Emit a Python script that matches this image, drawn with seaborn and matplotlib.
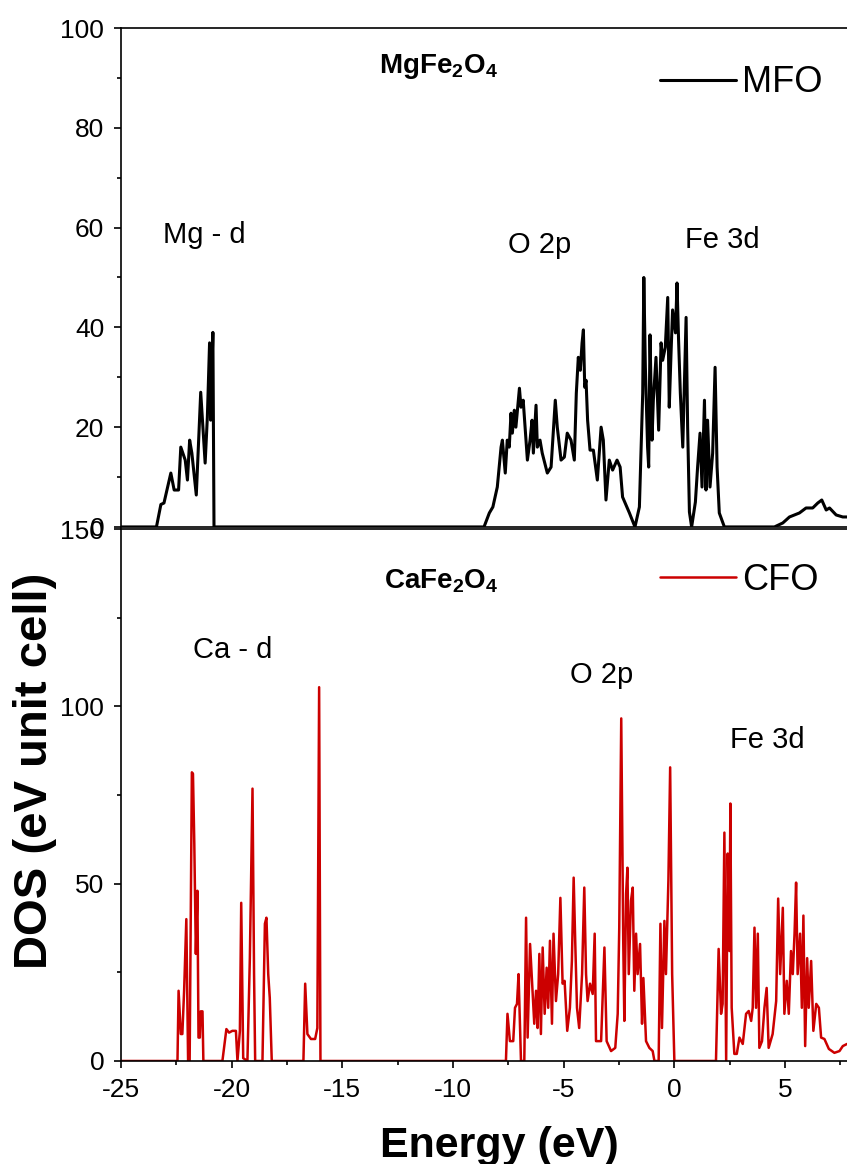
import numpy as np
import pandas as pd
import matplotlib
matplotlib.use("Agg")
import matplotlib.pyplot as plt
import seaborn as sns

# MgFe2O4 (MFO) DOS
mfo_mg_d_e = [-25.0, -23.4, -23.2, -23.06, -22.75, -22.6, -22.4, -22.3, -22.1, -22.0,
              -21.9, -21.8, -21.6, -21.4, -21.2, -21.1, -21.0, -20.95, -20.85, -20.8]
mfo_mg_d_dos = [0, 0, 4.5, 4.8, 10.8, 7.4, 7.4, 16, 13.4, 9.4,
                17.4, 14.8, 6.4, 27, 12.8, 22, 36.9, 21.4, 39, 0]

mfo_o2p_e = [-8.6, -8.36, -8.2, -8.0, -7.83, -7.77, -7.64, -7.55, -7.46, -7.38, -7.32,
             -7.23, -7.16, -7.0, -6.93, -6.83, -6.7, -6.64, -6.52, -6.43, -6.37, -6.25,
             -6.19, -6.07, -5.97, -5.74, -5.57, -5.38, -5.29, -5.12, -4.97, -4.84, -4.67,
             -4.52, -4.43, -4.34, -4.25, -4.17, -4.11, -4.05, -3.99, -3.92, -3.81, -3.66,
             -3.48, -3.31, -3.21, -3.09, -2.94, -2.79, -2.59, -2.45, -2.34, -2.03, -1.78]
mfo_o2p_dos = [0, 2.8, 4, 8, 16, 17.4, 10.8, 17.4, 16, 22.8, 18.8,
               23.4, 20, 27.8, 24, 25.4, 17.4, 13.4, 17.4, 21.4, 14.8, 24.4,
               16, 17.4, 14.8, 10.8, 12, 25.4, 20, 13.4, 14, 18.8, 17.4,
               13.4, 26.8, 34, 31.4, 36.9, 39.5, 28, 29.4, 21.4, 15.4, 15.4,
               9.4, 20, 17.4, 5.4, 13.4, 11.4, 13.4, 12, 6, 2.8, 0]

mfo_fe3d_e = [-1.58, -1.43, -1.38, -1.31, -1.21, -1.16, -1.1, -1.01, -0.95, -0.83,
              -0.71, -0.6, -0.53, -0.41, -0.3, -0.23, -0.15, -0.08, 0.05, 0.12,
              0.19, 0.27, 0.38, 0.53, 0.6, 0.68, 0.78, 0.95, 1.05, 1.16,
              1.25, 1.36, 1.43, 1.5, 1.61, 1.73, 1.84, 1.93, 2.03, 2.26]
mfo_fe3d_dos = [4, 26.8, 50, 32, 16, 12, 38.5, 17.4, 25.4, 34,
                19.4, 36.9, 33.4, 36, 46, 24, 34.9, 43.5, 38.9, 48.9,
                37.5, 26.8, 16, 42, 20, 3, 0, 5, 12, 18.8,
                8, 25.4, 7.4, 21.4, 8, 14.8, 32, 12, 2.8, 0]

mfo_cb_e = [4.52, 4.9, 5.2, 5.43, 5.65, 5.95, 6.25, 6.48, 6.66, 6.86, 7.01, 7.31, 7.61, 7.8]
mfo_cb_dos = [0, 0.8, 2, 2.4, 2.8, 3.8, 3.8, 4.8, 5.4, 3.4, 3.8, 2.4, 2, 2]

# CaFe2O4 (CFO) DOS
cfo_ca_d_e = [-25.0, -22.45, -22.4, -22.3, -22.23, -22.15, -22.05, -21.97, -21.9, -21.8,
              -21.75, -21.69, -21.62, -21.55, -21.5, -21.44, -21.4, -21.32, -21.28, -20.42,
              -20.24, -20.12, -19.97, -19.81, -19.74, -19.63, -19.57, -19.48, -19.29, -19.18,
              -19.06, -18.99, -18.94, -18.61, -18.5, -18.43, -18.35, -18.28, -18.19, -16.76,
              -16.68, -16.58, -16.42, -16.23, -16.13, -16.05, -15.99]
cfo_ca_d_dos = [0, 0, 19.8, 7.6, 7.6, 19.8, 40, 0, 0, 81.4,
                81, 61.3, 30.2, 48, 6.6, 6.6, 14, 14, 0, 0,
                9, 8, 8.5, 8.5, 0, 8.5, 44.6, 0.8, 0, 29,
                76.8, 24.5, 0, 0, 38.7, 40.4, 24.5, 17.8, 0, 0,
                21.8, 7.6, 6.2, 6.2, 9.3, 105.4, 0]

cfo_o2p_e = [-7.61, -7.54, -7.43, -7.28, -7.2, -7.11, -7.04, -6.93, -6.78, -6.7,
             -6.63, -6.52, -6.45, -6.33, -6.25, -6.18, -6.1, -6.03, -5.95, -5.86,
             -5.77, -5.7, -5.62, -5.53, -5.46, -5.35, -5.25, -5.15, -5.05, -4.96,
             -4.84, -4.72, -4.63, -4.55, -4.48, -4.4, -4.3, -4.17, -4.07, -3.99,
             -3.92, -3.81, -3.69, -3.6, -3.54, -3.31, -3.16, -3.06, -2.86, -2.67,
             -2.56, -2.49, -2.4, -2.31, -2.26, -2.18, -2.12, -2.06, -1.96, -1.88,
             -1.81, -1.73, -1.66, -1.55, -1.46, -1.4, -1.28, -1.13, -0.98, -0.9,
             -0.71, -0.63, -0.56, -0.45, -0.38, -0.27, -0.19, -0.1, 0.0]
cfo_o2p_dos = [0, 13.3, 5.6, 5.6, 15, 16.1, 24.5, 0, 0, 40.4,
               6.6, 33, 24.5, 10.5, 19.8, 9.3, 30.2, 7.6, 32, 13.3,
               26.3, 15, 33.9, 10.5, 35.9, 16.9, 24.5, 46, 21.8, 22.6,
               8.5, 15, 28.2, 51.7, 33.9, 15, 9.3, 24.5, 48.9, 24.5,
               16.9, 21.8, 18.9, 35.9, 5.6, 5.6, 32, 5.6, 2.8, 3.7,
               13.3, 37.6, 96.6, 33.9, 11.3, 47.2, 54.5, 24.5, 45.2, 48.9,
               19.8, 35.9, 24.5, 33, 10.5, 23.4, 5.6, 3.7, 2.8, 0,
               0, 38.7, 9.3, 39.5, 24.5, 50.8, 82.8, 24.5, 0]

cfo_fe3d_e = [1.88, 2.0, 2.11, 2.18, 2.26, 2.34, 2.41, 2.49, 2.53, 2.59,
              2.71, 2.82, 2.94, 3.09, 3.24, 3.36, 3.47, 3.54, 3.62, 3.69,
              3.77, 3.84, 3.96, 4.07, 4.17, 4.26, 4.44, 4.6, 4.69, 4.78,
              4.9, 4.97, 5.08, 5.17, 5.27, 5.35, 5.43, 5.5, 5.57, 5.68,
              5.76, 5.83, 5.91, 6.0, 6.07, 6.18, 6.28, 6.41, 6.53, 6.63,
              6.78, 6.98, 7.23, 7.46, 7.61, 7.8]
cfo_fe3d_dos = [0, 31.6, 13.3, 16.1, 64.4, 0, 58.5, 31, 72.6, 15,
                2, 2, 6.6, 4.8, 13.3, 14.1, 11.3, 15, 37.6, 15,
                35.9, 3.7, 5.6, 15, 20.6, 3.7, 7.6, 16.9, 45.8, 24.5,
                43.2, 13.3, 22.6, 13.3, 31, 24.5, 35.9, 50.3, 24.5, 35.9,
                15, 41, 4.2, 29, 15, 28.2, 8.5, 16.1, 15, 6.6,
                6.2, 3.4, 2.3, 2.8, 4.2, 4.8]

mfo = pd.DataFrame({
    "energy": mfo_mg_d_e + mfo_o2p_e + mfo_fe3d_e + mfo_cb_e,
    "dos": mfo_mg_d_dos + mfo_o2p_dos + mfo_fe3d_dos + mfo_cb_dos,
})
cfo = pd.DataFrame({
    "energy": cfo_ca_d_e + cfo_o2p_e + cfo_fe3d_e,
    "dos": cfo_ca_d_dos + cfo_o2p_dos + cfo_fe3d_dos,
})

sns.set_theme(style="ticks")
plt.rcParams["font.family"] = ["Liberation Sans", "DejaVu Sans"]
plt.rcParams["mathtext.fontset"] = "custom"
plt.rcParams["mathtext.rm"] = "Liberation Sans"
plt.rcParams["mathtext.bf"] = "Liberation Sans:bold"
plt.rcParams["axes.unicode_minus"] = False
plt.rcParams["text.color"] = "black"
plt.rcParams["xtick.color"] = "black"
plt.rcParams["ytick.color"] = "black"

red = "#cc0000"
fig = plt.figure(figsize=(8.47, 11.64), dpi=100)
ax1 = fig.add_axes([0.1429, 0.5473, 0.8571, 0.4286])
ax2 = fig.add_axes([0.1429, 0.0885, 0.8571, 0.4570])

sns.lineplot(data=mfo, x="energy", y="dos", sort=False, estimator=None,
             color="black", lw=2.2, label="MFO", ax=ax1)
sns.lineplot(data=cfo, x="energy", y="dos", sort=False, estimator=None,
             color=red, lw=1.8, label="CFO", ax=ax2)

for ax in (ax1, ax2):
    ax.set_xlim(-25, 7.8)
    ax.spines["right"].set_visible(False)
    for s in ("left", "bottom", "top"):
        ax.spines[s].set_linewidth(1.2)
        ax.spines[s].set_color("black")
    ax.tick_params(axis="both", which="major", direction="out", length=5, width=1.2,
                   labelsize=19, pad=7, colors="black")
    ax.tick_params(axis="both", which="minor", direction="out", length=3, width=1.2)
    ax.set_xlabel("")
    ax.set_ylabel("")

ax1.set_ylim(0, 100)
ax1.set_yticks(np.arange(0, 101, 20))
ax1.set_yticks(np.arange(10, 100, 20), minor=True)
ax1.tick_params(axis="x", which="both", bottom=False, labelbottom=False)

ax2.set_ylim(0, 150)
ax2.set_yticks([0, 50, 100, 150])
ax2.set_yticks([25, 75, 125], minor=True)
ax2.set_xticks(np.arange(-25, 6, 5))
ax2.set_xticks(np.arange(-22.5, 7.6, 5), minor=True)

# legends
for ax, yy in ((ax1, 0.89), (ax2, 0.904)):
    leg = ax.legend(loc="center left", bbox_to_anchor=(0.743, yy), frameon=False,
                    fontsize=26, handlelength=2.1, handletextpad=0.15,
                    borderpad=0, borderaxespad=0)
    for t in leg.get_texts():
        t.set_color("black")

# annotations
ax1.text(-13.34, 91, r"MgFe$_\mathbf{2}$O$_\mathbf{4}$", fontsize=20, fontweight="bold",
         ha="left", va="baseline")
ax1.text(-21.25, 58.5, "Mg - d", fontsize=21, ha="center", va="center")
ax1.text(-6.1, 56.5, "O 2p", fontsize=21, ha="center", va="center")
ax1.text(2.17, 57.5, "Fe 3d", fontsize=21, ha="center", va="center")

ax2.text(-13.1, 133.3, r"CaFe$_\mathbf{2}$O$_\mathbf{4}$", fontsize=20, fontweight="bold",
         ha="left", va="baseline")
ax2.text(-19.94, 115.8, "Ca - d", fontsize=21, ha="center", va="center")
ax2.text(-3.3, 108.8, "O 2p", fontsize=21, ha="center", va="center")
ax2.text(4.2, 90.4, "Fe 3d", fontsize=21, ha="center", va="center")

fig.text(0.041, 0.338, "DOS (eV unit cell)", rotation=90, fontsize=34,
         fontweight="bold", ha="center", va="center")
fig.text(0.59, 0.0155, "Energy (eV)", fontsize=31, fontweight="bold",
         ha="center", va="center")

fig.savefig("out.png", dpi=100)
